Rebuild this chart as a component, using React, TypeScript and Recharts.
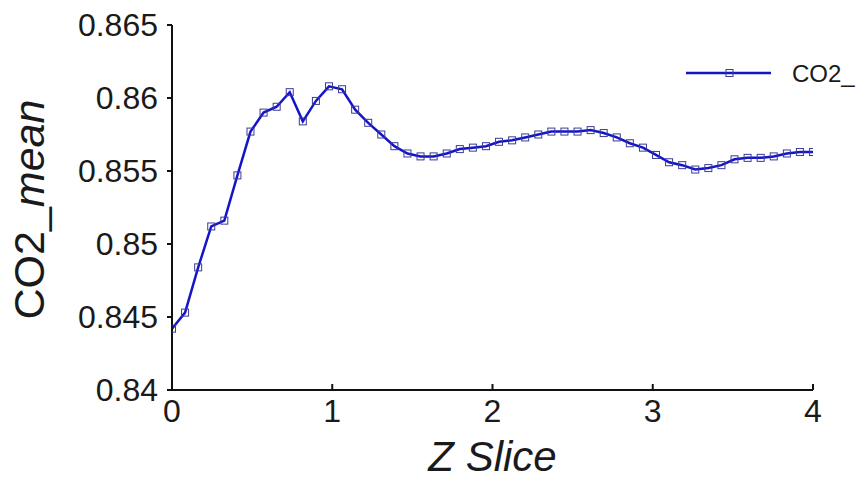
import { LineChart, Line, XAxis, YAxis, Legend } from "recharts";

// Z slice positions (50 samples across 0..4)
const zSlice = [
  0, 0.0816, 0.1633, 0.2449, 0.3265, 0.4082, 0.4898, 0.5714, 0.6531, 0.7347,
  0.8163, 0.898, 0.9796, 1.0612, 1.1429, 1.2245, 1.3061, 1.3878, 1.4694, 1.551,
  1.6327, 1.7143, 1.7959, 1.8776, 1.9592, 2.0408, 2.1224, 2.2041, 2.2857, 2.3673,
  2.449, 2.5306, 2.6122, 2.6939, 2.7755, 2.8571, 2.9388, 3.0204, 3.102, 3.1837,
  3.2653, 3.3469, 3.4286, 3.5102, 3.5918, 3.6735, 3.7551, 3.8367, 3.9184, 4,
];

const co2Mean = [
  0.8442, 0.8453, 0.8484, 0.8512, 0.8516, 0.8547, 0.8577, 0.859, 0.8594, 0.8604,
  0.8584, 0.8598, 0.8608, 0.8606, 0.8592, 0.8583, 0.8575, 0.8567, 0.8562, 0.856,
  0.856, 0.8562, 0.8565, 0.8566, 0.8567, 0.857, 0.8571, 0.8573, 0.8575, 0.8577,
  0.8577, 0.8577, 0.8578, 0.8576, 0.8573, 0.8569, 0.8566, 0.8561, 0.8556, 0.8554,
  0.8551, 0.8552, 0.8554, 0.8558, 0.8559, 0.8559, 0.856, 0.8562, 0.8563, 0.8563,
];

const xTicks = [0, 1, 2, 3, 4];
const yTicks = [0.84, 0.845, 0.85, 0.855, 0.86, 0.865];
const legendLabel = "CO2_";

const data = zSlice.map((z, i) => ({ z, co2: co2Mean[i] }));

const FONT = "'Liberation Sans', Arial, sans-serif";
const LINE = "#1414c8";
const MARK = "#3b3b96";

const SquareDot = (props: any) => {
  const { cx, cy, index } = props;
  if (cx == null || cy == null) return <g key={`d-${index}`} />;
  return (
    <rect
      key={`d-${index}`}
      x={cx - 3.5}
      y={cy - 3.5}
      width={7}
      height={7}
      fill="none"
      stroke={MARK}
      strokeWidth={1}
    />
  );
};

const YTitle = (props: any) => {
  const { viewBox } = props;
  const x = viewBox.x - 28;
  const y = viewBox.y + viewBox.height / 2 + 2;
  return (
    <text
      transform={`translate(${x},${y}) rotate(-90)`}
      textAnchor="middle"
      fontSize={43}
      fontFamily={FONT}
      fill="#1a1a1a"
    >
      <tspan>CO2_</tspan>
      <tspan fontStyle="italic">mean</tspan>
    </text>
  );
};

const XTitle = (props: any) => {
  const { viewBox } = props;
  return (
    <text
      x={viewBox.x + viewBox.width / 2}
      y={viewBox.y + 81}
      textAnchor="middle"
      fontSize={42}
      fontStyle="italic"
      fontFamily={FONT}
      fill="#1a1a1a"
    >
      Z Slice
    </text>
  );
};

const LegendBox = () => (
  <svg width={171} height={30}>
    <line x1={0} y1={15} x2={85} y2={15} stroke={LINE} strokeWidth={2.5} />
    <rect x={40} y={11.5} width={7} height={7} fill="none" stroke={MARK} />
    <text x={106} y={24} fontSize={24} fontFamily={FONT} fill="#1a1a1a">
      {legendLabel}
    </text>
  </svg>
);

export default function App() {
  return (
    <div
      style={{
        position: "absolute",
        left: 0,
        top: 0,
        width: 857,
        height: 481,
        overflow: "hidden",
        background: "#fff",
      }}
    >
      <LineChart
        width={857}
        height={481}
        data={data}
        margin={{ top: 25, right: 44, left: 72, bottom: 0 }}
      >
        <XAxis
          dataKey="z"
          type="number"
          domain={[0, 4]}
          ticks={xTicks}
          allowDataOverflow
          height={91}
          stroke="#111"
          strokeWidth={2}
          tickSize={-6}
          tickMargin={15}
          tick={{ fontSize: 32, fill: "#1a1a1a", fontFamily: FONT }}
          label={{ content: XTitle }}
        />
        <YAxis
          type="number"
          domain={[0.84, 0.865]}
          ticks={yTicks}
          allowDataOverflow
          width={100}
          stroke="#111"
          strokeWidth={2}
          tickSize={5}
          tickMargin={9}
          tick={{ fontSize: 32, fill: "#1a1a1a", fontFamily: FONT }}
          label={{ content: YTitle }}
        />
        <Legend
          layout="horizontal"
          verticalAlign="middle"
          align="center"
          content={LegendBox}
          wrapperStyle={{ position: "absolute", top: 58, left: 686, width: 171 }}
        />
        <Line
          type="linear"
          dataKey="co2"
          name="CO2_mean"
          stroke={LINE}
          strokeWidth={2.5}
          dot={SquareDot}
          activeDot={false}
          isAnimationActive={false}
        />
      </LineChart>
    </div>
  );
}
